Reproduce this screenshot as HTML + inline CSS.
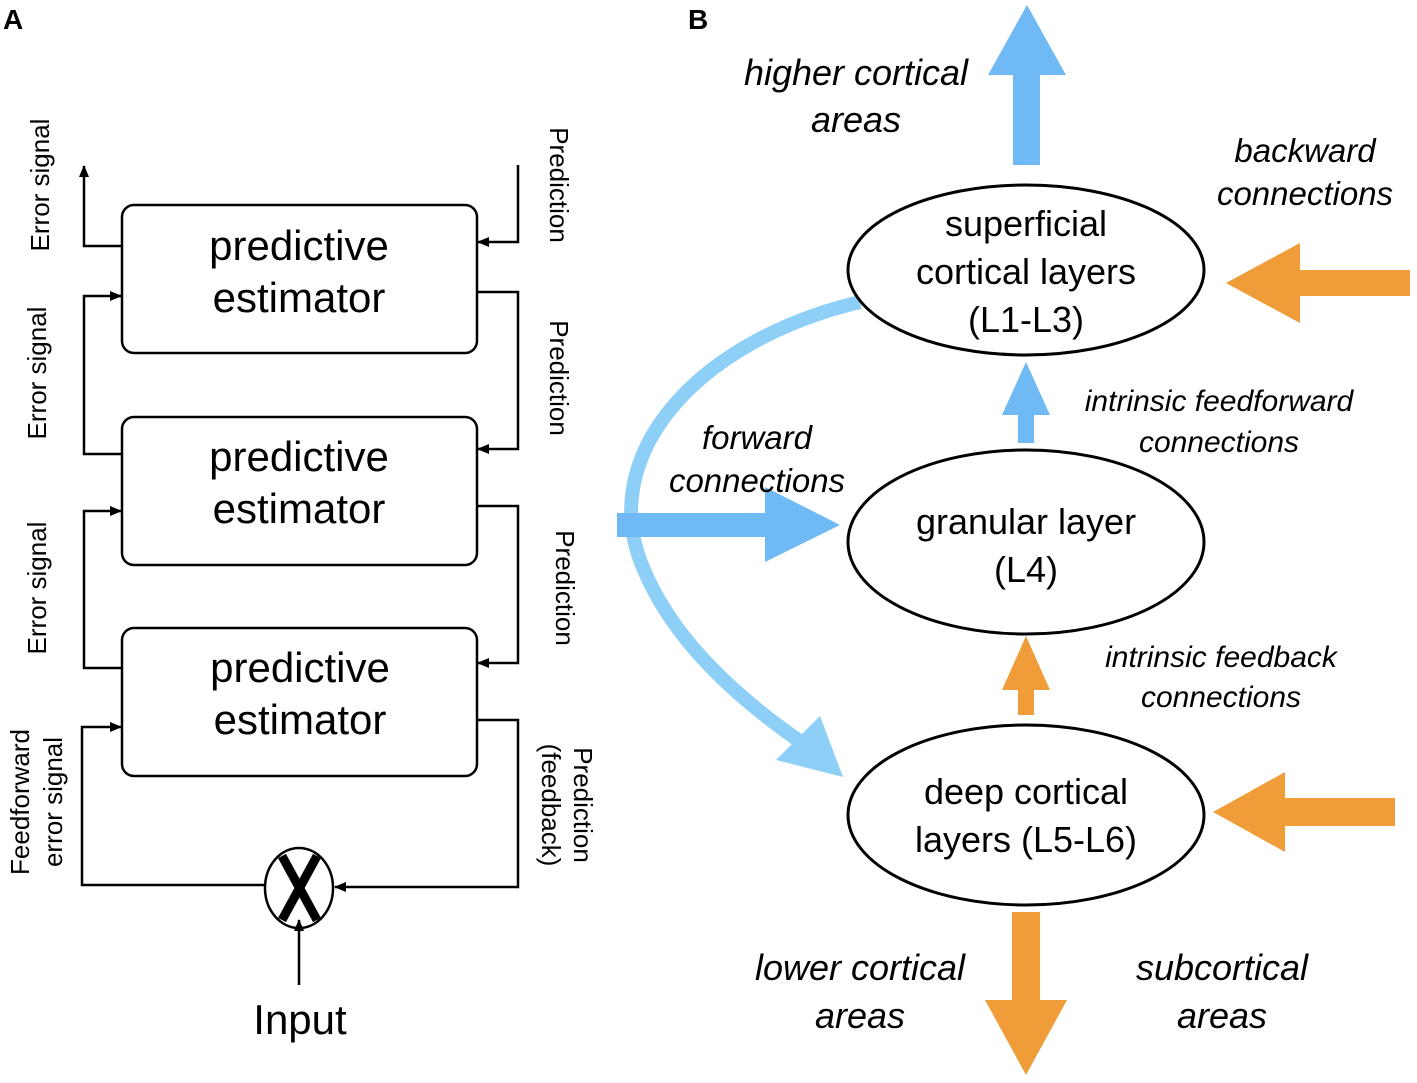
<!DOCTYPE html>
<html><head><meta charset="utf-8"><style>
html,body{margin:0;padding:0;background:#fff}
svg{display:block}
text{font-family:"Liberation Sans",sans-serif}
.it{font-style:italic}
</style></head><body>
<svg width="1417" height="1083" viewBox="0 0 1417 1083" xmlns="http://www.w3.org/2000/svg">
<defs>
<marker id="ah" markerWidth="12" markerHeight="10" refX="11" refY="5" orient="auto" markerUnits="userSpaceOnUse">
<path d="M0,0 L12,5 L0,10 z" fill="#000"/></marker>
</defs>
<text x="3" y="29" font-size="28" font-weight="bold">A</text>
<text x="688" y="29" font-size="28" font-weight="bold">B</text>
<g fill="none" stroke="#000" stroke-width="2.5">
<rect x="122" y="205" width="355" height="148" rx="12"/>
<rect x="122" y="417" width="355" height="148" rx="12"/>
<rect x="122" y="628" width="355" height="148" rx="12"/>
<polyline points="122,246 84,246 84,166" marker-end="url(#ah)"/>
<polyline points="122,454 84,454 84,296 121,296" marker-end="url(#ah)"/>
<polyline points="122,668 84,668 84,511 121,511" marker-end="url(#ah)"/>
<polyline points="264,885 82,885 82,727 121,727" marker-end="url(#ah)"/>
<polyline points="518,165 518,242 478,242" marker-end="url(#ah)"/>
<polyline points="477,292 518,292 518,449 478,449" marker-end="url(#ah)"/>
<polyline points="477,506 518,506 518,663 478,663" marker-end="url(#ah)"/>
<polyline points="477,720 518,720 518,887 335,887" marker-end="url(#ah)"/>
<line x1="299" y1="985" x2="299" y2="920" marker-end="url(#ah)"/>
<ellipse cx="299" cy="888" rx="34" ry="40"/>
</g>
<g stroke="#000" stroke-width="9"><line x1="282" y1="856" x2="317" y2="920"/><line x1="317" y1="856" x2="282" y2="920"/></g>
<g font-size="42" text-anchor="middle">
<text x="299" y="260">predictive</text><text x="299" y="312">estimator</text>
<text x="299" y="471">predictive</text><text x="299" y="523">estimator</text>
<text x="300" y="682">predictive</text><text x="300" y="734">estimator</text>
<text x="300" y="1034">Input</text>
</g>
<g font-size="26" text-anchor="middle">
<text transform="translate(49,185) rotate(-90)">Error signal</text>
<text transform="translate(46,373) rotate(-90)">Error signal</text>
<text transform="translate(46,588) rotate(-90)">Error signal</text>
<text transform="translate(29,802) rotate(-90)">Feedforward</text>
<text transform="translate(62,802) rotate(-90)">error signal</text>
<text transform="translate(550,185) rotate(90)">Prediction</text>
<text transform="translate(550,378) rotate(90)">Prediction</text>
<text transform="translate(556,588) rotate(90)">Prediction</text>
<text transform="translate(574,805) rotate(90)">Prediction</text>
<text transform="translate(542,805) rotate(90)">(feedback)</text>
</g>
<path d="M860,302 C700,340 600,450 640,560 C670,640 740,700 805,745" fill="none" stroke="#8dcff7" stroke-width="14"/>
<polygon points="843,777 776,760 820,716" fill="#8dcff7"/>
<polygon points="617,513 765,513 765,487 840,525 765,562 765,537 617,537" fill="#6fb9f4"/>
<polygon points="1013,165 1013,75 988,75 1027,5 1066,75 1040,75 1040,165" fill="#6fb9f4"/>
<polygon points="1018,443 1018,415 1002,415 1026,362 1050,415 1034,415 1034,443" fill="#6fb9f4"/>
<polygon points="1410,270 1300,270 1300,243 1226,283 1300,323 1300,296 1410,296" fill="#f09c38"/>
<polygon points="1395,798 1285,798 1285,772 1213,812 1285,852 1285,826 1395,826" fill="#f09c38"/>
<polygon points="1018,715 1018,690 1002,690 1026,636 1050,690 1034,690 1034,715" fill="#f09c38"/>
<polygon points="1012,912 1012,1000 985,1000 1026,1075 1067,1000 1040,1000 1040,912" fill="#f09c38"/>
<g fill="#fff" stroke="#000" stroke-width="3">
<ellipse cx="1026" cy="270" rx="178" ry="85"/>
<ellipse cx="1026" cy="542" rx="178" ry="92"/>
<ellipse cx="1026" cy="815" rx="178" ry="90"/>
</g>
<g font-size="36" text-anchor="middle">
<text x="1026" y="236">superficial</text><text x="1026" y="284">cortical layers</text><text x="1026" y="332">(L1-L3)</text>
<text x="1026" y="534">granular layer</text><text x="1026" y="582">(L4)</text>
<text x="1026" y="804">deep cortical</text><text x="1026" y="852">layers (L5-L6)</text>
</g>
<g font-size="36" text-anchor="middle">
<text x="856" y="85" class="it">higher cortical</text><text x="856" y="132" class="it">areas</text>
<text x="860" y="980" class="it">lower cortical</text><text x="860" y="1028" class="it">areas</text>
<text x="1222" y="980" class="it">subcortical</text><text x="1222" y="1028" class="it">areas</text>
</g>
<g font-size="33" text-anchor="middle">
<text x="1305" y="162" class="it">backward</text><text x="1305" y="205" class="it">connections</text>
<text x="757" y="449" class="it">forward</text><text x="757" y="492" class="it">connections</text>
</g>
<g font-size="30" text-anchor="middle">
<text x="1219" y="411" class="it">intrinsic feedforward</text><text x="1219" y="452" class="it">connections</text>
<text x="1221" y="667" class="it">intrinsic feedback</text><text x="1221" y="707" class="it">connections</text>
</g>
</svg>
</body></html>
